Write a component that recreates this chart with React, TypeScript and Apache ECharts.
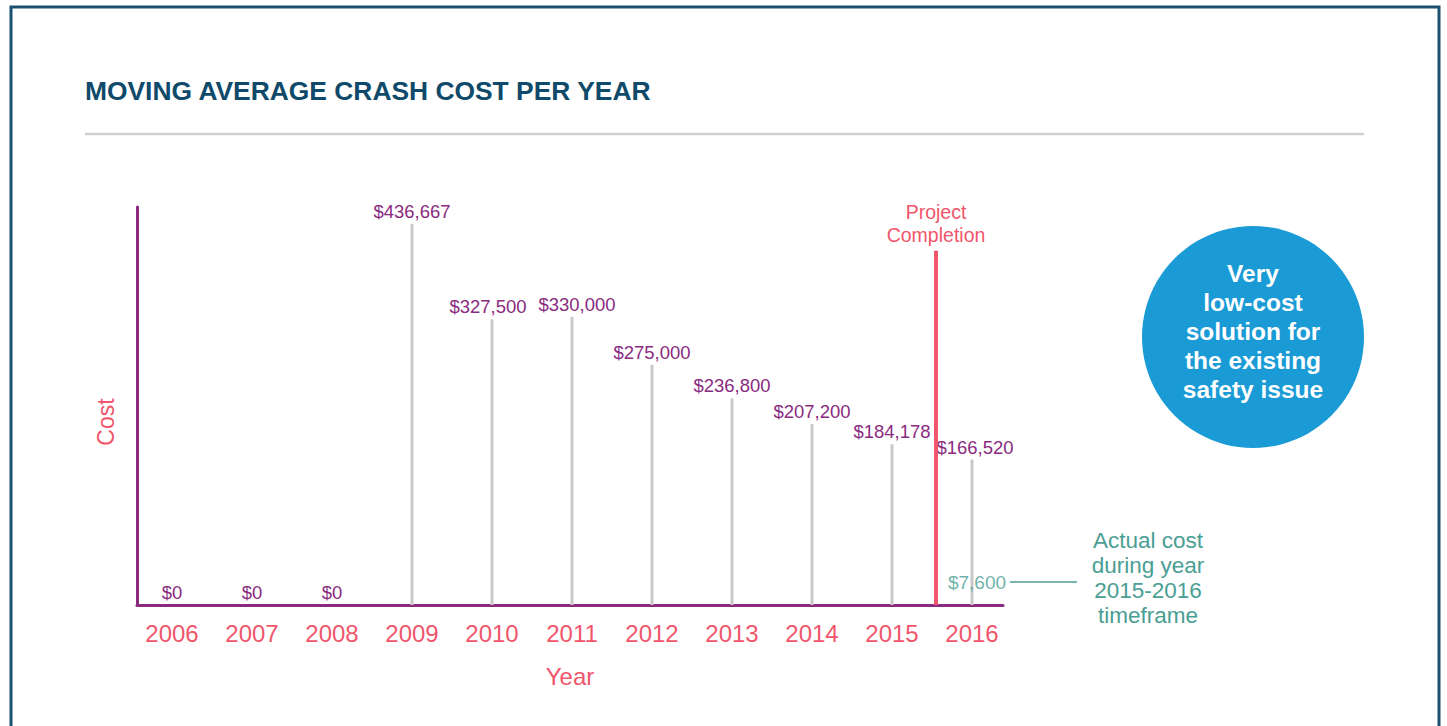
import React, { useEffect, useRef } from "react";
import * as echarts from "echarts";

const years = [2006, 2007, 2008, 2009, 2010, 2011, 2012, 2013, 2014, 2015, 2016];
const movingAvgCost = [0, 0, 0, 436667, 327500, 330000, 275000, 236800, 207200, 184178, 166520];
const labelShiftX = [0, 0, 0, 0, -4, 5, 0, 0, 0, 0, 3];
const actualCostYear = 2016;
const actualCost = 7600;
const projectCompletionYear = 2015.55;
const projectLineTop = 406000;
const annotationLines = ["Actual cost", "during year", "2015-2016", "timeframe"];
const bubbleLines = ["Very", "low-cost", "solution for", "the existing", "safety issue"];

const FONT = "'Liberation Sans', Arial, Helvetica, sans-serif";
const RED = "#f0566b";
const PURPLE = "#8a2b80";
const TEAL = "#4a9e93";
const NAVY = "#0f4a6a";

const money = (v: number) => "$" + v.toLocaleString("en-US");

export default function App() {
  const ref = useRef<HTMLDivElement>(null);
  useEffect(() => {
    if (!ref.current) return;
    const chart = echarts.init(ref.current, undefined, { renderer: "svg" });
    chart.setOption({
      animation: false,
      backgroundColor: "#ffffff",
      textStyle: { fontFamily: FONT },
      grid: { left: 137, top: 207, width: 866, height: 398, containLabel: false },
      xAxis: {
        type: "value",
        min: 2005.5625,
        max: 2016.3875,
        name: "Year",
        nameLocation: "middle",
        nameGap: 59,
        nameTextStyle: { color: RED, fontSize: 24, fontFamily: FONT },
        axisLine: { show: true, lineStyle: { color: PURPLE, width: 3 } },
        axisTick: { show: false },
        splitLine: { show: false },
        axisLabel: {
          customValues: years,
          formatter: (v: number) => String(v),
          color: RED,
          fontSize: 24,
          margin: 16,
          fontFamily: FONT,
        },
      },
      yAxis: {
        type: "value",
        min: 0,
        max: 456000,
        name: "Cost",
        nameLocation: "middle",
        nameRotate: 90,
        nameGap: 20,
        nameTextStyle: { color: RED, fontSize: 23, fontFamily: FONT, padding: [0, 32, 0, 0] },
        axisLine: { show: true, lineStyle: { color: PURPLE, width: 3 } },
        axisTick: { show: false },
        axisLabel: { show: false },
        splitLine: { show: false },
      },
      series: [
        {
          type: "bar",
          barWidth: 3,
          itemStyle: { color: "#c9c9c9" },
          data: years.map((y, i) => ({
            value: [y, movingAvgCost[i]],
            label: { offset: [labelShiftX[i], 0] },
          })),
          label: {
            show: true,
            position: "top",
            distance: 3,
            color: PURPLE,
            fontSize: 18.5,
            fontFamily: FONT,
            formatter: (p: any) => money(p.value[1]),
          },
          markLine: {
            silent: true,
            symbol: ["none", "none"],
            lineStyle: { color: RED, width: 4, type: "solid" },
            label: {
              show: true,
              position: "end",
              distance: 4,
              formatter: "Project\nCompletion",
              color: RED,
              fontSize: 19.5,
              lineHeight: 23,
              fontFamily: FONT,
            },
            data: [
              [
                { coord: [projectCompletionYear, 0] },
                { coord: [projectCompletionYear, projectLineTop] },
              ],
            ],
          },
        },
        {
          type: "scatter",
          symbolSize: 0,
          data: [[actualCostYear, actualCost]],
          label: {
            show: true,
            position: "top",
            distance: 6,
            offset: [5, 0],
            color: TEAL,
            fontSize: 19,
            fontFamily: FONT,
            formatter: (p: any) => money(p.value[1]),
          },
        },
      ],
      graphic: [
        {
          type: "rect",
          shape: { x: 11, y: 7, width: 1428, height: 800 },
          style: { fill: "none", stroke: "#1b5272", lineWidth: 3 },
          silent: true,
        },
        {
          type: "text",
          x: 85,
          y: 91,
          style: {
            text: "MOVING AVERAGE CRASH COST PER YEAR",
            fill: NAVY,
            font: `bold 26.4px ${FONT}`,
            textVerticalAlign: "middle",
          },
        },
        {
          type: "line",
          shape: { x1: 85, y1: 134, x2: 1364, y2: 134 },
          style: { stroke: "#cfcfcf", lineWidth: 2.5 },
        },
        {
          type: "circle",
          shape: { cx: 1253, cy: 337, r: 111 },
          style: { fill: "#1a9bd6" },
        },
        {
          type: "text",
          x: 1253,
          y: 331,
          style: {
            text: bubbleLines.join("\n"),
            fill: "#ffffff",
            font: `bold 24.5px ${FONT}`,
            lineHeight: 29,
            textAlign: "center",
            textVerticalAlign: "middle",
          },
        },
        {
          type: "line",
          shape: { x1: 1010, y1: 582, x2: 1077, y2: 582 },
          style: { stroke: TEAL, lineWidth: 1.5 },
        },
        {
          type: "text",
          x: 1148,
          y: 578,
          style: {
            text: annotationLines.join("\n"),
            fill: TEAL,
            font: `22.5px ${FONT}`,
            lineHeight: 25,
            textAlign: "center",
            textVerticalAlign: "middle",
          },
        },
      ],
    });
    return () => chart.dispose();
  }, []);
  return (
    <div
      ref={ref}
      style={{ position: "fixed", left: 0, top: 0, width: 1447, height: 726, background: "#fff" }}
    />
  );
}
